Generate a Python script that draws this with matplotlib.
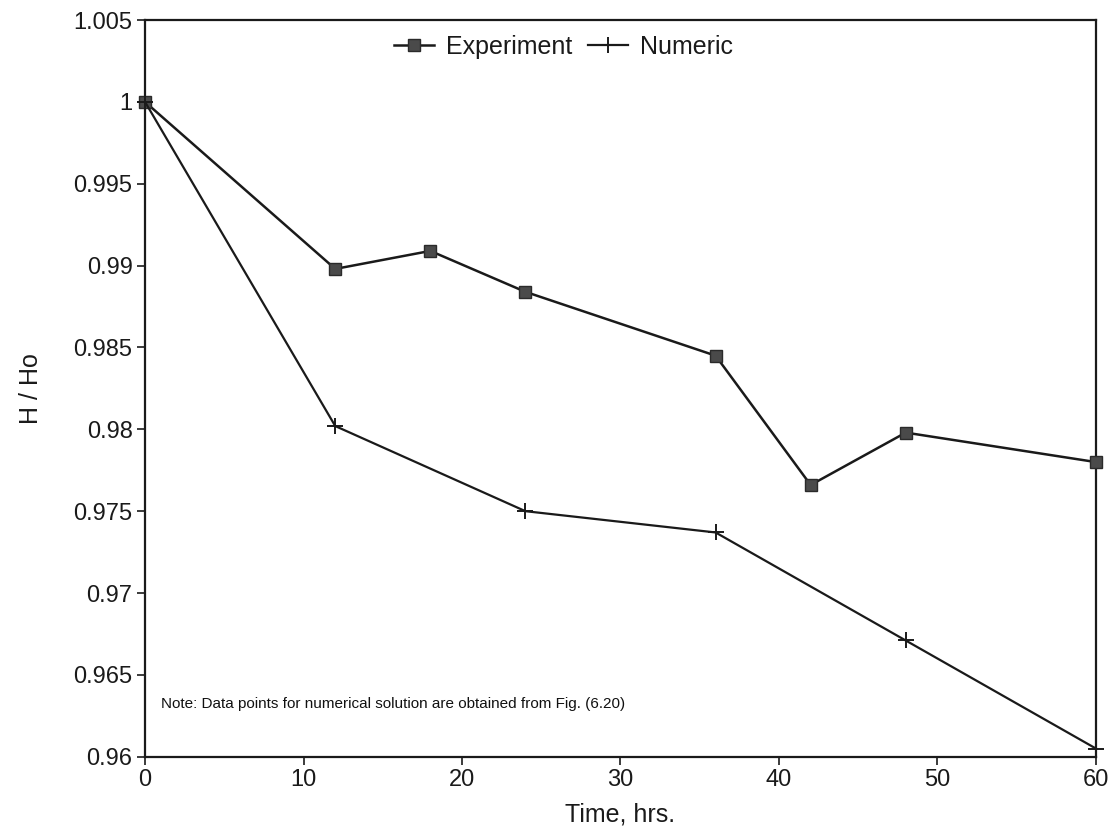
import matplotlib
matplotlib.use("Agg")
import matplotlib.pyplot as plt

plt.rcParams["font.family"] = ["Liberation Sans", "DejaVu Sans"]

# H/Ho versus time
time_exp = [0, 12, 18, 24, 36, 42, 48, 60]
h_exp = [1.0, 0.9898, 0.9909, 0.9884, 0.9845, 0.9766, 0.9798, 0.9780]

time_num = [0, 12, 24, 36, 48, 60]
h_num = [1.0, 0.9802, 0.9750, 0.9737, 0.9671, 0.9605]

yticks = [0.96, 0.965, 0.97, 0.975, 0.98, 0.985, 0.99, 0.995, 1.0, 1.005]
ytick_labels = ["0.96", "0.965", "0.97", "0.975", "0.98", "0.985", "0.99", "0.995", "1", "1.005"]
xticks = [0, 10, 20, 30, 40, 50, 60]

fig = plt.figure(figsize=(11.16, 8.38), dpi=100)
ax = fig.add_axes([0.130, 0.097, 0.852, 0.879])

ax.plot(time_exp, h_exp, color="#1a1a1a", lw=1.8, marker="s", ms=9,
        mfc="#4a4a4a", mec="#2a2a2a", label="Experiment", clip_on=False, zorder=3)
ax.plot(time_num, h_num, color="#1a1a1a", lw=1.6, marker="+", ms=12, mew=1.4,
        label="Numeric", clip_on=False, zorder=3)

ax.set_xlim(0, 60)
ax.set_ylim(0.96, 1.005)
ax.set_xticks(xticks)
ax.set_yticks(yticks)
ax.set_yticklabels(ytick_labels)
ax.tick_params(direction="out", length=6, width=1.2, labelsize=17, pad=3,
               top=False, right=False, colors="#1a1a1a")
for s in ax.spines.values():
    s.set_linewidth(1.6)
    s.set_color("#1a1a1a")

ax.set_xlabel("Time, hrs.", fontsize=18, labelpad=8, color="#1a1a1a")
ax.set_ylabel("H / Ho", fontsize=18, labelpad=22, color="#1a1a1a")

ax.legend(loc="upper center", bbox_to_anchor=(0.44, 1.01), ncol=2, frameon=False,
          fontsize=18, handlelength=1.6, columnspacing=0.6, handletextpad=0.5,
          labelcolor="#1a1a1a")

ax.text(1.0, 0.9630, "Note: Data points for numerical solution are obtained from Fig. (6.20)",
        fontsize=11, color="#111111")

fig.savefig("out.png", dpi=100)
